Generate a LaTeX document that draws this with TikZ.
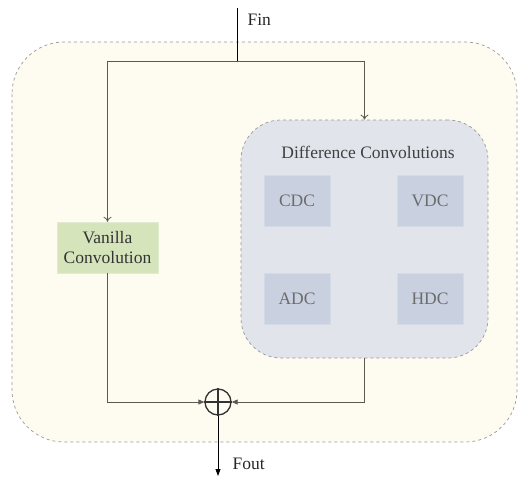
\documentclass[tikz,border=0pt]{standalone}
\usepackage{fontspec}
\setmainfont{Liberation Serif}
\usetikzlibrary{arrows.meta,shapes.misc}
\definecolor{outerfill}{HTML}{FEFCF0}
\definecolor{dcfill}{HTML}{E1E4EA}
\definecolor{smallfill}{HTML}{C9D1E0}
\definecolor{vanfill}{HTML}{D6E4BC}
\definecolor{linecol}{HTML}{5A5A50}
\tikzset{
  dashbox/.style={draw=gray!80, dashed, line width=0.7pt},
  smallbox/.style={draw=smallfill!80!white, fill=smallfill, minimum width=66pt, minimum height=51pt, inner sep=0pt, text=gray!85!black, font=\fontsize{17.5}{20}\selectfont},
  vanbox/.style={draw=vanfill!70!white, fill=vanfill, minimum width=101pt, minimum height=51pt, inner sep=0pt, align=center, text=black!80, font=\fontsize{17.5}{20.5}\selectfont},
  conn/.style={draw=linecol, line width=0.8pt},
  openarr/.style={-{To[length=5pt,width=8pt]}},
  filledarr/.style={-{Triangle[length=6pt,width=5pt]}},
  lbl/.style={font=\fontsize{17.5}{20}\selectfont, text=black!85}
}
\begin{document}
\begin{tikzpicture}[x=1pt,y=-1pt]
\useasboundingbox (0,0) rectangle (518,476);
% outer container
\draw[dashbox, fill=outerfill, rounded corners=52pt] (12,42) rectangle (517,442);
% difference convolution container
\node[dashbox, fill=dcfill, rounded corners=40pt, minimum width=247pt, minimum height=238pt, inner sep=0pt] (dc) at (364.5,239) {};
\node[lbl, text=black!75] (dctitle) at (368,152) {Difference Convolutions};
\node[smallbox] (cdc) at (297,200.5) {CDC};
\node[smallbox] (vdc) at (430,200.5) {VDC};
\node[smallbox] (adc) at (297,298.5) {ADC};
\node[smallbox] (hdc) at (430,298.5) {HDC};
% vanilla
\node[vanbox] (van) at (107.5,247.5) {Vanilla\\Convolution};
% sum node
\node[circle, draw=black!80, line width=1.3pt, minimum size=26pt, inner sep=0pt] (sum) at (218,402) {};
\draw[black!80, line width=1.3pt] (sum.north) -- (sum.south) (sum.west) -- (sum.east);
% coordinates
\coordinate (fin) at (237,8);
\coordinate (split) at (237,61);
\coordinate (fout) at (218,476);
% input
\draw[black, line width=0.8pt] (fin) -- (split);
\node[lbl, anchor=west] (finl) at (244,20) {Fin};
\draw[conn, openarr] (split) -| (van.north);
\draw[conn, openarr] (split) -| (dc.north);
% merge
\draw[conn, filledarr] (van.south) |- (sum.west);
\draw[conn, filledarr] (dc.south) |- (sum.east);
% output
\draw[black, line width=0.8pt, -{Triangle[length=7pt,width=5pt]}] (sum.south) -- (fout);
\node[lbl, anchor=west] (foutl) at (229,464) {Fout};
\end{tikzpicture}
\end{document}
